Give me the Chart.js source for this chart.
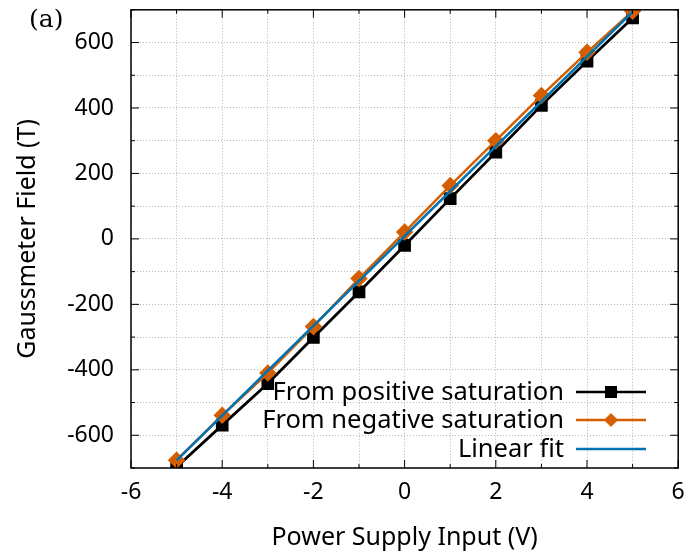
<!DOCTYPE html>
<html>
<head>
<meta charset="utf-8">
<script src="https://cdn.jsdelivr.net/npm/chart.js@4/dist/chart.umd.min.js"></script>
<style>
  html, body { margin: 0; padding: 0; background: #fff; }
  #wrap { position: relative; width: 688px; height: 556px; }
  #tag { position: absolute; left: 29px; top: 4px; font: 25px "DejaVu Serif", "Liberation Serif", serif; color: #000; }
</style>
</head>
<body>
<div id="wrap">
  <canvas id="chart" width="688" height="556"></canvas>
  <div id="tag">(a)</div>
</div>
<script>
// tensiones de la fuente (V)
const voltages = [-5, -4, -3, -2, -1, 0, 1, 2, 3, 4, 5];
// campo medido (T)
const fromPositive = [-697, -569, -442, -301, -162, -20, 123, 265, 408, 543, 675];
const fromNegative = [-676, -539, -410, -268, -121, 21, 163, 300, 438, 570, 696];
// recta de ajuste, extremos
const fitX = [-5, 5];
const fitY = [-677, 694];

const seriesLabels = ['From positive saturation', 'From negative saturation', 'Linear fit'];
const FONT = '"Noto Sans", "Open Sans", sans-serif';

const pts = (xs, ys) => xs.map((x, i) => ({ x, y: ys[i] }));

// leyenda a la derecha, texto alineado a la derecha y muestra de línea
const legendRight = {
  id: 'legendRight',
  afterDatasetsDraw(chart) {
    const ctx = chart.ctx;
    const rows = [392, 420, 449];
    const x0 = 576, x1 = 646, tx = 564;
    ctx.save();
    ctx.font = '25.5px ' + FONT;
    ctx.textAlign = 'right';
    ctx.textBaseline = 'middle';
    chart.data.datasets.forEach((ds, i) => {
      const y = rows[i];
      ctx.fillStyle = '#000';
      ctx.fillText(ds.label, tx, y + 1);
      ctx.strokeStyle = ds.borderColor;
      ctx.lineWidth = 2.5;
      ctx.beginPath(); ctx.moveTo(x0, y); ctx.lineTo(x1, y); ctx.stroke();
      const mx = (x0 + x1) / 2;
      ctx.fillStyle = ds.pointBackgroundColor || ds.borderColor;
      if (ds.pointStyle === 'rect') {
        ctx.fillRect(mx - 6, y - 6, 12, 12);
      } else if (ds.pointStyle === 'rectRot') {
        ctx.beginPath();
        ctx.moveTo(mx, y - 7); ctx.lineTo(mx + 7, y); ctx.lineTo(mx, y + 7); ctx.lineTo(mx - 7, y);
        ctx.closePath(); ctx.fill();
      }
    });
    ctx.restore();
  }
};

// marco y ticks hacia dentro (estilo gnuplot)
const frameTicks = {
  id: 'frameTicks',
  afterDraw(chart) {
    const { ctx, chartArea: a, scales } = chart;
    ctx.save();
    ctx.strokeStyle = '#000';
    ctx.lineWidth = 1;
    ctx.beginPath();
    scales.x.ticks.forEach(t => {
      const px = scales.x.getPixelForValue(t.value);
      const len = t.value % 2 === 0 ? 8 : 4;
      ctx.moveTo(px, a.bottom); ctx.lineTo(px, a.bottom - len);
      ctx.moveTo(px, a.top); ctx.lineTo(px, a.top + len);
    });
    scales.y.ticks.forEach(t => {
      const py = scales.y.getPixelForValue(t.value);
      const len = t.value % 200 === 0 ? 8 : 4;
      ctx.moveTo(a.left, py); ctx.lineTo(a.left + len, py);
      ctx.moveTo(a.right, py); ctx.lineTo(a.right - len, py);
    });
    ctx.stroke();
    ctx.lineWidth = 1.5;
    ctx.strokeRect(a.left, a.top, a.right - a.left, a.bottom - a.top);
    ctx.restore();
  }
};

const gridStyle = {
  color: '#b8b8b8',
  lineWidth: 1,
  drawTicks: false,
};
const borderStyle = { display: false, dash: [1, 2] };

new Chart(document.getElementById('chart'), {
  type: 'scatter',
  data: {
    datasets: [
      {
        label: seriesLabels[0],
        data: pts(voltages, fromPositive),
        showLine: true,
        borderColor: '#000000',
        backgroundColor: '#000000',
        pointBackgroundColor: '#000000',
        pointStyle: 'rect',
        pointRadius: 7,
        borderWidth: 2.8,
        order: 3,
      },
      {
        label: seriesLabels[1],
        data: pts(voltages, fromNegative),
        showLine: true,
        borderColor: '#d55e00',
        backgroundColor: '#d55e00',
        pointBackgroundColor: '#d55e00',
        pointStyle: 'rectRot',
        pointRadius: 7,
        borderWidth: 2.5,
        order: 2,
      },
      {
        label: seriesLabels[2],
        data: pts(fitX, fitY),
        showLine: true,
        borderColor: '#0072b2',
        backgroundColor: '#0072b2',
        pointRadius: 0,
        borderWidth: 2.5,
        order: 1,
      },
    ]
  },
  options: {
    responsive: false,
    animation: false,
    layout: { padding: { left: 0, top: 8, right: 9, bottom: 0 } },
    plugins: { legend: { display: false }, tooltip: { enabled: false } },
    scales: {
      x: {
        type: 'linear', min: -6, max: 6,
        grid: { ...gridStyle },
        border: { ...borderStyle },
        afterFit(s) { s.height = 88; s.paddingLeft = 0; s.paddingRight = 0; },
        ticks: {
          stepSize: 1, color: '#000', padding: 11,
          font: { family: FONT, size: 23 },
          callback: v => (v % 2 === 0 ? String(v) : ''),
        },
        title: {
          display: true, text: 'Power Supply Input (V)', color: '#000',
          font: { family: FONT, size: 25 }, padding: { top: 8, bottom: 3 },
        },
      },
      y: {
        type: 'linear', min: -700, max: 700,
        grid: { ...gridStyle },
        border: { ...borderStyle },
        afterFit(s) { s.width = 131; s.paddingTop = 0; s.paddingBottom = 0; },
        ticks: {
          stepSize: 100, color: '#000', padding: 17,
          font: { family: FONT, size: 23 },
          callback: v => (v % 200 === 0 ? String(v) : ''),
        },
        title: {
          display: true, text: 'Gaussmeter Field (T)', color: '#000',
          font: { family: FONT, size: 25 }, padding: { top: 13, bottom: 4 },
        },
      },
    },
  },
  plugins: [frameTicks, legendRight],
});
</script>
</body>
</html>
